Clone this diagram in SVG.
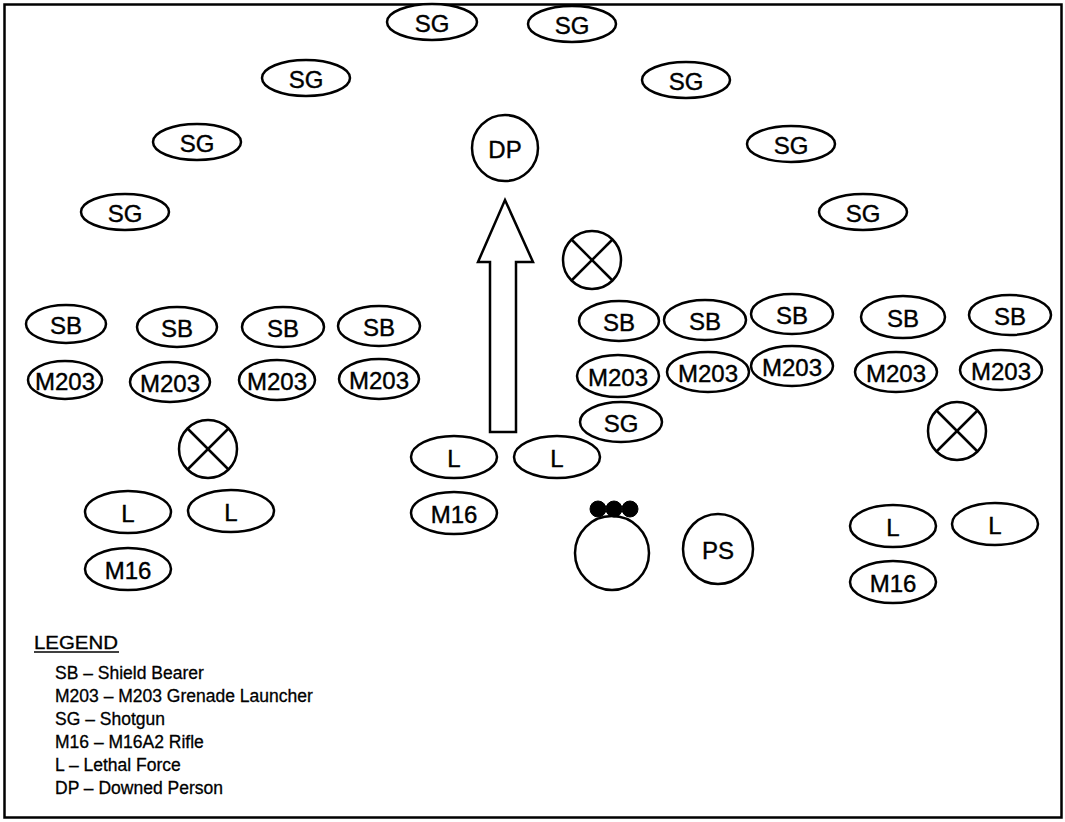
<svg xmlns="http://www.w3.org/2000/svg" width="1065" height="822" viewBox="0 0 1065 822">
<style>
.n ellipse, .n circle { fill: #fff; stroke: #000; stroke-width: 2.5; }
.n circle.dot { fill: #000; stroke: #000; stroke-width: 1; }
.n text { font-family: "Liberation Sans", Arial, sans-serif; font-size: 24px; fill: #000; stroke: #000; stroke-width: 0.4; text-anchor: middle; dominant-baseline: central; }
.x line { stroke: #000; stroke-width: 2.5; }
.leg { font-family: "Liberation Sans", Arial, sans-serif; font-size: 17.5px; fill: #000; stroke: #000; stroke-width: 0.3; }
</style>
<rect x="0" y="0" width="1065" height="822" fill="#fff"/>
<rect x="4.5" y="4.5" width="1057" height="813" fill="none" stroke="#000" stroke-width="2.5"/>
<!-- SG arc -->
<g id="sg1" class="n"><ellipse cx="432" cy="22" rx="45" ry="18"/><text x="432" y="23">SG</text></g>
<g id="sg2" class="n"><ellipse cx="572" cy="24" rx="44" ry="18"/><text x="572" y="25">SG</text></g>
<g id="sg3" class="n"><ellipse cx="306" cy="78" rx="44" ry="18"/><text x="306" y="79">SG</text></g>
<g id="sg4" class="n"><ellipse cx="686" cy="80" rx="44" ry="18"/><text x="686" y="81">SG</text></g>
<g id="sg5" class="n"><ellipse cx="197" cy="142" rx="44" ry="18"/><text x="197" y="143">SG</text></g>
<g id="sg6" class="n"><ellipse cx="791" cy="144" rx="44" ry="18"/><text x="791" y="145">SG</text></g>
<g id="sg7" class="n"><ellipse cx="125" cy="212" rx="44" ry="18"/><text x="125" y="213">SG</text></g>
<g id="sg8" class="n"><ellipse cx="863" cy="212" rx="44" ry="18"/><text x="863" y="213">SG</text></g>
<g id="dp" class="n"><circle cx="505" cy="148" r="33"/><text x="505" y="149">DP</text></g>
<!-- left block -->
<g id="sb1" class="n"><ellipse cx="66" cy="324" rx="40" ry="19"/><text x="66" y="325">SB</text></g>
<g id="sb2" class="n"><ellipse cx="177" cy="327" rx="40" ry="20"/><text x="177" y="328">SB</text></g>
<g id="sb3" class="n"><ellipse cx="283" cy="327" rx="41" ry="20"/><text x="283" y="328">SB</text></g>
<g id="sb4" class="n"><ellipse cx="379" cy="326" rx="41" ry="20"/><text x="379" y="327">SB</text></g>
<g id="m1" class="n"><ellipse cx="65" cy="380" rx="37" ry="19"/><text x="65" y="381">M203</text></g>
<g id="m2" class="n"><ellipse cx="170" cy="382" rx="40" ry="20"/><text x="170" y="383">M203</text></g>
<g id="m3" class="n"><ellipse cx="277" cy="380" rx="38" ry="20"/><text x="277" y="381">M203</text></g>
<g id="m4" class="n"><ellipse cx="379" cy="379" rx="40" ry="20"/><text x="379" y="380">M203</text></g>
<g id="x1" class="n x"><circle cx="208" cy="449" r="29"/><line x1="188" y1="429" x2="228" y2="469"/><line x1="228" y1="429" x2="188" y2="469"/></g>
<g id="l1" class="n"><ellipse cx="128" cy="512" rx="43" ry="21"/><text x="128" y="513">L</text></g>
<g id="l2" class="n"><ellipse cx="231" cy="511" rx="43" ry="21"/><text x="231" y="512">L</text></g>
<g id="m16a" class="n"><ellipse cx="128" cy="569" rx="43" ry="21"/><text x="128" y="570">M16</text></g>
<!-- middle -->
<g id="l3" class="n"><ellipse cx="454" cy="457" rx="43" ry="21"/><text x="454" y="458">L</text></g>
<g id="l4" class="n"><ellipse cx="557" cy="457" rx="43" ry="21"/><text x="557" y="458">L</text></g>
<g id="m16b" class="n"><ellipse cx="454" cy="513" rx="43" ry="21"/><text x="454" y="514">M16</text></g>
<!-- right block -->
<g id="x2" class="n x"><circle cx="592" cy="260" r="29"/><line x1="572" y1="240" x2="612" y2="280"/><line x1="612" y1="240" x2="572" y2="280"/></g>
<g id="sb5" class="n"><ellipse cx="619" cy="321" rx="40" ry="20"/><text x="619" y="322">SB</text></g>
<g id="sb6" class="n"><ellipse cx="705" cy="320" rx="41" ry="20"/><text x="705" y="321">SB</text></g>
<g id="sb7" class="n"><ellipse cx="792" cy="314" rx="41" ry="20"/><text x="792" y="315">SB</text></g>
<g id="sb8" class="n"><ellipse cx="903" cy="317" rx="42" ry="21"/><text x="903" y="318">SB</text></g>
<g id="sb9" class="n"><ellipse cx="1010" cy="315" rx="41" ry="20"/><text x="1010" y="316">SB</text></g>
<g id="m5" class="n"><ellipse cx="618" cy="376" rx="41" ry="21"/><text x="618" y="377">M203</text></g>
<g id="m6" class="n"><ellipse cx="708" cy="372" rx="41" ry="20"/><text x="708" y="373">M203</text></g>
<g id="m7" class="n"><ellipse cx="792" cy="366" rx="41" ry="20"/><text x="792" y="367">M203</text></g>
<g id="m8" class="n"><ellipse cx="896" cy="372" rx="41" ry="20"/><text x="896" y="373">M203</text></g>
<g id="m9" class="n"><ellipse cx="1001" cy="370" rx="41" ry="20"/><text x="1001" y="371">M203</text></g>
<g id="sg9" class="n"><ellipse cx="621" cy="422" rx="41" ry="20"/><text x="621" y="423">SG</text></g>
<g id="x3" class="n x"><circle cx="957" cy="431" r="29"/><line x1="937" y1="411" x2="977" y2="451"/><line x1="977" y1="411" x2="937" y2="451"/></g>
<g id="l5" class="n"><ellipse cx="893" cy="526" rx="43" ry="21"/><text x="893" y="527">L</text></g>
<g id="l6" class="n"><ellipse cx="995" cy="524" rx="43" ry="21"/><text x="995" y="525">L</text></g>
<g id="m16c" class="n"><ellipse cx="893" cy="582" rx="43" ry="21"/><text x="893" y="583">M16</text></g>
<g id="veh" class="n"><circle cx="612" cy="553" r="37"/><circle class="dot" cx="598" cy="509" r="8"/><circle class="dot" cx="614" cy="509" r="8"/><circle class="dot" cx="630" cy="509" r="8"/></g>
<g id="ps" class="n"><circle cx="718" cy="549" r="35"/><text x="718" y="550">PS</text></g>
<!-- connectors -->
<g id="connectors">
<path d="M490,432 L490,262 L478,262 L505,200 L533,262 L516,262 L516,432 Z" fill="#fff" stroke="#000" stroke-width="2.5" stroke-linejoin="miter"/>
</g>
<!-- legend -->
<g id="legend">
<text class="leg" x="34" y="649" textLength="84" lengthAdjust="spacingAndGlyphs">LEGEND</text>
<line x1="34" y1="652" x2="119" y2="652" stroke="#000" stroke-width="1.5"/>
<text class="leg" x="55" y="679">SB – Shield Bearer</text>
<text class="leg" x="55" y="702">M203 – M203 Grenade Launcher</text>
<text class="leg" x="55" y="725">SG – Shotgun</text>
<text class="leg" x="55" y="748">M16 – M16A2 Rifle</text>
<text class="leg" x="55" y="771">L – Lethal Force</text>
<text class="leg" x="55" y="794">DP – Downed Person</text>
</g>
</svg>
